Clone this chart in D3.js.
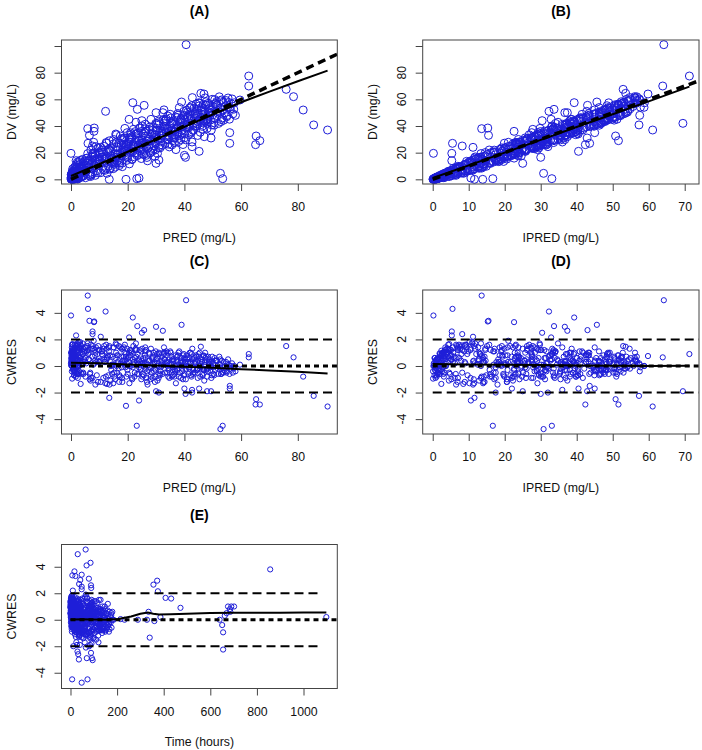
<!DOCTYPE html>
<html><head><meta charset="utf-8">
<script src="https://cdn.jsdelivr.net/npm/d3@7"></script>
<style>body{margin:0;background:#fff}svg{display:block}</style>
</head><body><svg id="c" width="702" height="750"></svg>
<script>
const PRED=[
0.2,0.5,0.8,1.1,0.3,1.5,2.0,0.6,1.8,2.4,
0.1,0.9,1.3,2.7,0.4,1.6,2.2,0.7,2.9,1.0,
0.3,1.9,2.6,0.5,1.4,2.1,0.8,1.7,2.3,0.2,
2.8,1.2,0.6,2.5,1.5,0.9,2.0,0.4,1.1,2.6,
0.7,1.8,2.9,0.3,1.3,2.2,0.5,1.6,2.4,1.0,
3.2,3.8,4.3,4.9,5.4,6.1,6.7,7.3,7.9,8.5,
9.1,9.7,3.5,4.0,4.6,5.1,5.7,6.4,7.0,7.6,
8.2,8.8,9.4,3.3,5.9,6.9,8.0,9.9,4.4,7.5,
9.5,5.0,6.3,8.6,3.7,10.2,10.8,11.4,12.0,12.6,
13.2,13.8,14.4,15.0,15.6,16.2,16.8,17.4,18.0,18.6,
19.2,19.8,10.5,11.1,11.7,12.3,12.9,13.5,14.1,14.7,
15.3,15.9,16.5,17.1,17.7,18.3,18.9,19.5,10.0,11.9,
13.0,14.9,16.0,17.0,18.5,19.6,12.5,15.4,17.9,19.0,
20.3,20.9,21.5,22.1,22.7,23.3,23.9,24.5,25.1,25.7,
26.3,26.9,27.5,28.1,28.7,29.3,29.9,20.6,21.2,21.8,
22.4,23.0,23.6,24.2,24.8,25.4,26.0,26.6,27.2,27.8,
28.4,29.0,29.6,20.1,22.9,24.0,26.5,28.9,20.7,23.5,
25.9,27.0,29.4,21.0,24.6,28.2,22.2,25.5,27.6,29.8,
30.2,30.8,31.4,32.0,32.6,33.2,33.8,34.4,35.0,35.6,
36.2,36.8,37.4,38.0,38.6,39.2,39.8,30.5,31.1,31.7,
32.3,32.9,33.5,34.1,34.7,35.3,35.9,36.5,37.1,37.7,
38.3,38.9,39.5,30.0,32.8,34.0,36.6,38.8,30.6,33.4,
35.8,37.0,39.4,31.0,34.6,38.2,32.2,35.5,37.6,39.9,
40.2,40.8,41.4,42.0,42.6,43.2,43.8,44.4,45.0,45.6,
46.2,46.8,47.4,48.0,48.6,49.2,49.8,40.5,41.1,41.7,
42.3,42.9,43.5,44.1,44.7,45.3,45.9,46.5,47.1,47.7,
48.3,48.9,49.5,40.0,42.8,44.0,46.6,48.8,40.9,43.4,
45.7,47.0,49.4,41.9,44.6,50.2,50.8,51.4,52.0,52.6,
53.2,53.8,54.4,55.0,55.6,56.2,56.8,57.4,50.5,51.1,
51.7,52.3,52.9,53.5,54.1,54.7,55.3,55.9,56.5,57.6,
0.4,1.2,2.0,2.8,3.6,4.4,0.9,1.7,2.5,3.3,
10.9,12.1,13.3,14.5,15.7,16.9,18.1,19.3,11.5,13.9,
16.3,18.7,20.4,21.6,22.8,24.0,25.2,26.4,27.6,28.8,
21.4,23.8,25.0,26.2,27.4,28.6,29.8,22.6,24.8,26.8,
30.4,31.6,32.8,34.0,35.2,36.4,37.6,38.8,30.9,33.1,
34.3,35.5,36.7,37.9,39.1,31.8,33.6,35.9,37.3,39.6,
40.7,41.9,43.1,44.3,45.5,46.7,47.9,49.1,41.3,43.7,
45.1,46.9,48.5,49.7,42.5,44.9,47.3,48.1,40.3,46.0,
50.0,51.3,52.5,53.7,54.9,56.0,57.1,50.7,53.0,55.4,
4.8,5.6,6.2,7.1,7.8,8.9,9.6,5.3,6.6,8.3,
12.4,14.0,15.2,16.6,17.8,19.9,13.6,15.8,18.2,19.4,
1.4,0.6,2.3,3.1,1.9,0.2,2.7,3.9,4.1,0.8,
0.5,1.0,1.6,2.2,3.0,0.3,1.3,2.6,3.5,4.2,
5.2,6.0,6.8,7.7,8.4,9.3,10.1,11.0,11.8,12.7,
13.4,14.2,15.1,16.4,17.3,18.2,19.1,20.0,20.8,21.9,
22.5,23.1,24.4,25.3,26.1,27.3,28.0,29.1,29.7,20.5,
30.3,31.2,32.1,33.0,33.9,34.8,35.7,36.9,37.8,38.7,
39.3,40.1,41.0,41.6,42.2,43.0,43.9,44.8,45.4,46.3,
47.2,47.8,48.4,49.0,49.6,50.3,51.0,51.8,52.7,53.4,
1.7,2.9,3.8,0.7,2.4,4.6,1.1,3.2,0.5,2.0,
26.7,29.5,31.9,34.6,36.1,37.5,39.9,42.4,44.5,46.1,
14.8,16.1,17.5,18.8,19.7,21.1,22.0,23.7,24.9,25.6,
2.1,1.5,1.2,0.9,3.4,0.8,0.6,0.5,0.4,0.3,
0.2,0.3,0.4,0.1,0.2,0.1,0.2,0.1,0.3,0.1,
0.0,0.2,
40.6,62.7,62.7,75.9,78.5,81.9,85.6,90.5,65.3,66.6,
65.1,56,52.7,53.5,49.4,45.2,40.4,12.2,21.8,25.8,
23.4,19.4,23.2,13.5,24,0,5.9,8.2,6,6.5,
7.6,7.6,1.8,32.4,39,8.1,30,25,20.5,10.5,
42.7,42.7,40,31,56,8.6,12.7,48,46.9,45.8,
59.6,58,22,30];
const IPRED=[
1.6,2.5,0.9,3.4,0.5,2.6,4.7,6.5,1.5,3.3,
0.4,3.5,1.0,5.2,1.2,4.4,2.9,0.6,7.0,1.9,
3.5,2.4,4.8,0.7,3.0,8.9,1.5,3.1,1.3,0.9,
6.9,4.8,1.2,5.1,1.6,2.6,7.6,1.9,0.5,3.0,
4.1,6.0,3.7,2.4,1.6,11.0,0.9,8.1,0.8,4.9,
7.4,7.0,4.6,9.4,9.1,13.2,6.4,11.8,12.5,13.7,
9.7,14.6,3.3,8.0,8.8,3.1,11.6,13.8,15.7,7.0,
11.6,20.8,11.4,7.9,13.4,4.5,21.0,18.5,10.5,14.4,
6.9,11.2,13.0,23.6,5.7,14.7,17.1,10.5,17.7,19.9,
14.9,19.3,19.1,23.8,11.4,23.7,22.6,28.3,13.4,23.2,
17.5,27.5,8.9,18.6,21.5,13.6,20.8,26.2,19.1,21.9,
14.2,22.8,20.2,19.7,23.8,23.7,25.7,16.4,19.2,18.3,
19.4,11.5,26.8,14.4,23.7,27.5,12.8,17.9,24.6,29.8,
27.5,27.5,17.5,23.7,29.9,23.8,26.1,22.6,33.2,21.6,
29.4,28.3,33.4,22.2,32.7,28.9,34.1,14.0,34.1,25.7,
19.9,27.6,31.5,33.6,17.1,26.6,32.6,22.0,30.8,33.0,
25.1,36.7,20.6,23.9,34.8,29.0,29.2,32.2,23.2,33.2,
23.9,18.0,31.8,29.3,26.1,38.6,26.6,31.4,31.8,24.8,
35.5,36.4,29.5,35.6,38.4,29.9,36.7,31.2,41.5,30.0,
38.8,35.4,41.1,30.5,43.3,40.4,42.8,22.3,39.2,31.5,
30.2,38.4,37.3,43.2,27.9,36.2,41.0,33.6,37.0,43.4,
35.4,37.0,31.2,33.1,45.0,39.2,37.2,40.7,31.1,42.6,
36.3,29.1,37.7,38.0,35.7,46.2,36.2,46.1,33.6,36.4,
48.1,47.4,39.7,46.4,48.4,38.9,49.3,44.8,48.9,38.1,
49.1,46.7,50.5,39.8,52.3,47.9,53.8,35.5,46.7,39.5,
40.2,49.2,48.4,51.6,36.9,44.6,50.7,40.4,50.3,52.4,
45.1,46.3,41.7,48.5,54.7,50.2,50.4,51.7,43.7,52.3,
46.2,37.4,46.7,48.7,47.4,55.6,48.2,54.1,46.8,51.1,
56.2,47.4,53.2,52.2,53.1,54.8,57.4,53.4,46.3,56.5,
54.2,56.7,47.8,50.7,51.7,56.8,57.7,51.2,55.8,58.8,
3.0,1.4,3.9,2.6,6.7,4.8,3.2,1.1,8.2,9.0,
13.1,10.2,18.6,16.0,22.8,23.0,14.1,27.5,17.2,12.9,
17.5,27.2,24.0,20.6,29.0,27.9,22.5,31.0,34.8,25.9,
28.4,23.0,32.7,36.0,28.9,31.1,31.4,24.5,31.6,20.6,
33.9,31.6,37.0,37.2,41.8,35.3,42.6,40.1,27.4,34.6,
30.7,38.0,39.6,43.5,40.3,30.1,40.8,33.7,36.8,43.2,
42.1,45.4,45.7,48.3,47.6,51.4,50.5,48.0,42.6,43.9,
50.4,48.1,53.6,44.9,39.8,46.2,56.2,49.9,39.4,47.8,
52.0,51.6,54.1,53.2,50.8,58.7,53.0,55.0,48.9,56.3,
8.9,9.9,12.8,6.1,14.6,14.0,19.2,12.6,5.2,16.1,
23.1,20.9,16.9,20.2,26.3,20.8,11.2,29.7,25.6,23.2,
5.6,2.4,3.5,7.6,1.8,2.9,10.2,6.2,11.8,4.3,
2.7,1.7,3.4,5.1,5.6,0.6,7.3,2.0,4.3,9.6,
6.4,10.5,8.2,15.1,12.9,12.1,14.3,16.8,18.2,14.0,
19.0,15.8,22.3,21.7,15.9,25.0,25.4,19.6,26.2,28.6,
23.8,30.1,23.4,26.0,33.5,27.6,24.1,34.0,32.1,27.3,
37.4,29.4,38.9,39.4,33.4,43.8,36.7,42.6,34.5,33.9,
39.0,38.3,42.7,44.7,49.2,41.0,45.1,46.9,52.8,43.5,
46.3,48.6,52.6,51.9,49.0,46.4,52.4,53.5,54.5,50.2,
3.9,6.9,3.0,2.0,9.3,5.2,1.0,11.0,4.4,2.6,
25.6,36.9,28.7,39.8,38.4,38.1,37.2,41.0,45.3,45.0,
18.9,13.4,22.6,16.9,19.8,24.7,20.2,28.0,23.5,28.9,
1.8,1.1,0.9,3.2,2.4,0.8,1.1,4.6,4.3,2.7,
0.2,0.1,0.1,1.0,1.6,2.9,2.3,3.1,3.0,1.4,
0.3,0.4,
64.2,71.3,63.9,52.9,56.1,51,57.3,61.1,50.8,51.6,
42.4,43.6,30.8,33.1,42.9,40.5,30,32.3,39.3,43,
33.7,13.9,16.7,11.6,10.6,0.2,13.6,15.3,5.5,15.5,
5.3,8.2,5.3,37.4,45.6,22.6,36.7,30.4,32.9,11.2,
32,36,22,17.5,45,6.5,8.5,69.5,59.8,53.6,
57.5,57.5,27.8,25];
const DV=[
1.2,3.1,0.3,4.2,0.8,1.9,5.5,7.8,0.9,2.6,
0.1,2.7,0.4,6.3,1.6,3.6,2.0,0.2,8.1,1.3,
4.6,1.7,3.9,1.0,2.3,10.4,2.1,3.8,0.6,0.5,
5.8,6.0,1.8,4.3,0.9,3.4,9.0,2.5,0.1,2.2,
5.2,5.0,2.9,3.2,1.1,12.8,1.4,9.6,0.2,4.0,
5.9,9.8,2.4,13.5,6.1,12.0,3.8,16.8,8.7,15.2,
6.4,20.1,1.5,7.4,11.0,1.2,16.0,9.3,22.0,4.2,
10.5,24.5,12.2,4.8,19.3,2.1,27.8,13.6,12.6,14.0,
4.9,7.0,14.4,18.0,8.3,13.8,21.9,7.1,15.6,27.1,
9.8,21.2,15.5,29.9,9.2,24.3,15.9,32.5,12.1,26.2,
18.4,35.0,5.0,16.9,24.8,8.4,20.3,28.9,14.7,23.1,
11.3,27.4,19.2,13.4,25.8,20.5,31.1,14.1,19.6,13.3,
21.0,8.0,33.4,10.3,23.9,25.0,15.9,16.5,17.6,38.2,
23.2,29.7,14.8,24.2,35.8,17.7,29.5,21.6,40.1,18.5,
32.3,23.0,37.4,20.2,33.8,25.2,41.9,11.6,33.5,20.9,
16.9,31.2,25.7,38.6,15.6,27.4,35.1,18.0,28.6,39.2,
23.3,29.8,17.2,26.8,42.8,28.7,24.6,36.9,20.7,34.6,
27.7,13.9,30.6,34.9,22.8,45.0,25.8,33.7,26.3,22.1,
33.1,40.5,23.6,36.3,44.9,26.9,38.5,30.1,48.8,25.8,
41.4,31.6,46.3,28.4,42.9,34.0,51.0,19.4,42.5,30.6,
25.5,39.7,35.4,47.6,24.3,36.0,43.8,27.6,37.9,49.4,
32.8,39.0,26.1,37.0,52.1,37.8,33.3,45.6,30.3,44.2,
36.6,22.3,40.1,43.7,32.5,53.8,34.5,41.8,35.5,31.0,
44.8,51.9,33.5,47.4,55.2,36.7,48.7,39.8,57.4,35.3,
51.2,42.1,55.8,38.2,53.0,44.4,60.0,29.6,50.3,39.2,
34.6,50.7,46.1,56.5,32.9,45.0,53.7,37.6,49.2,58.2,
43.2,49.0,37.0,48.0,61.3,47.1,44.4,55.6,41.3,53.4,
46.8,32.0,49.9,53.8,43.6,54.6,45.6,58.4,41.9,53.5,
59.6,44.3,54.9,47.8,57.7,52.8,60.3,52.6,40.6,57.0,
51.5,61.9,43.3,52.0,49.8,59.1,54.1,45.1,56.7,57.4,
2.2,0.6,5.1,1.5,8.8,3.0,4.4,0.3,6.9,11.2,
16.5,6.8,22.4,11.9,19.1,27.3,9.5,24.0,20.6,8.3,
13.7,30.8,27.9,15.2,33.6,23.4,19.1,36.2,30.1,21.4,
31.9,18.6,29.3,41.3,24.1,34.7,27.0,27.8,35.9,16.4,
36.7,28.2,41.8,33.5,46.1,30.9,39.3,44.7,23.8,38.0,
26.4,42.4,35.6,48.2,36.9,33.0,45.3,29.0,40.6,47.7,
38.5,48.9,41.2,52.7,44.0,56.3,46.4,51.8,45.7,39.9,
55.0,43.9,50.1,40.8,35.7,49.6,61.1,45.2,42.8,52.2,
48.3,55.7,50.4,57.9,46.9,54.0,49.1,59.8,44.8,61.0,
6.7,12.4,9.6,3.4,17.5,11.3,23.6,15.7,2.6,19.9,
27.6,17.8,13.0,23.9,30.4,17.3,7.6,34.0,22.0,26.8,
7.2,1.7,2.8,9.5,0.9,3.6,13.3,4.7,15.0,5.9,
3.8,0.9,2.4,6.6,4.1,1.0,9.2,1.2,5.4,7.9,
8.4,13.7,5.3,18.6,10.2,15.5,11.6,20.4,14.6,17.1,
22.6,12.7,26.6,18.1,12.3,29.2,21.8,16.2,30.5,24.7,
19.7,34.4,27.1,22.2,37.8,31.5,19.9,38.8,28.3,31.0,
41.7,25.6,35.0,43.6,29.7,40.0,32.9,46.8,38.3,29.8,
43.4,34.0,47.0,40.4,53.6,36.9,49.3,43.1,57.2,39.7,
50.6,44.7,57.0,47.9,53.1,42.6,56.6,49.6,58.9,46.1,
4.9,8.3,2.1,2.9,11.6,6.4,0.4,14.2,6.0,3.3,
28.9,33.2,32.4,36.1,42.6,34.5,41.1,44.9,41.8,48.8,
15.8,16.7,19.5,20.0,22.9,21.6,23.4,25.1,26.6,25.9,
1.8,1.1,0.9,3.5,1.6,0.7,1.2,5.0,4.8,3.0,
0.2,0.1,0.0,1.2,1.9,3.3,2.6,3.4,3.3,1.5,
0.5,0.2,
101,77.5,70,67.5,62,52,40.8,37,32.5,29,
26,27,4.5,0.5,31,21,16.5,51,57.5,55.5,
52.5,0,0.5,0,1,19.5,38,38.5,27,33,
19.5,25,14,50,58,36,50,44,45,24,
24.5,28,18,14.5,35,3,4.5,42,64,64.5,
59.5,48,37.5,12];
const CWRES=[
0.4,0.9,-0.2,1.2,0.6,0.1,1.1,1.6,-0.5,0.2,
0.05,0.7,-0.4,0.8,0.5,0.6,-0.1,-0.3,1.3,0.3,
1.4,-0.2,0.4,0.35,0.45,1.5,0.55,0.75,-0.6,0.2,
0.65,1.25,0.5,0.5,-0.35,0.85,1.45,0.95,-0.7,-0.05,
1.05,0.7,0.0,1.15,0.15,1.7,0.45,1.55,-0.9,0.8,
0.6,1.2,-0.5,1.4,0.2,0.9,-0.6,1.3,0.1,0.8,
-0.7,1.2,-0.5,0.9,1.1,-0.8,1.5,0.5,1.6,-0.9,
0.2,1.4,0.4,0.4,1.7,-1.1,1.9,0.3,1.3,0.7,
-1.2,0.35,1.0,1.0,1.0,0.4,1.1,-0.9,0.3,1.3,
-0.7,0.8,0.1,1.4,-1.0,0.8,-0.2,1.4,-0.9,0.7,
-0.1,1.3,-1.2,0.8,1.5,-0.8,0.8,1.5,0.0,0.7,
-0.8,1.0,0.2,-0.7,0.7,0.2,1.0,-0.8,1.2,0.3,
0.7,-1.3,1.6,-1.2,0.4,0.5,0.5,0.1,-0.1,1.6,
0.3,0.8,-0.9,0.3,1.2,-0.6,0.5,-0.3,1.3,-0.7,
0.6,-0.4,1.0,-0.8,0.5,-0.4,1.1,-1.3,1.1,-0.1,
-0.8,0.7,0.2,1.2,-1.0,0.2,0.8,-0.9,0.1,0.9,
-0.5,0.1,-1.2,0.6,1.7,0.4,-0.2,0.7,0.0,0.9,
0.2,-1.4,0.2,1.2,-0.2,1.3,0.3,0.6,-0.1,-0.8,
0.2,0.7,-0.7,0.3,1.0,-0.5,0.3,-0.3,1.1,-0.8,
0.4,-0.4,0.7,-0.8,0.3,-0.4,0.9,-1.1,0.9,-0.1,
-0.6,0.5,0.1,1.0,-0.9,0.1,0.5,-0.8,0.0,0.8,
-0.5,0.1,-1.0,0.5,1.4,0.3,-0.3,0.4,0.0,0.8,
-0.1,-1.3,0.0,1.0,-0.2,1.1,0.2,0.4,-0.2,-0.7,
0.3,0.8,-0.6,0.3,0.9,-0.5,0.3,-0.3,0.9,-0.8,
0.3,-0.3,0.6,-0.8,0.3,-0.3,0.7,-1.0,0.6,-0.2,
-0.7,0.5,0.2,0.8,-0.9,0.0,0.5,-0.7,0.1,0.7,
-0.4,0.1,-0.9,0.6,1.3,0.2,-0.2,0.5,0.0,0.6,
0.0,-1.1,0.0,1.0,-0.2,0.2,-0.3,0.4,-0.6,0.1,
0.4,-0.5,0.0,-0.4,0.1,-0.2,0.2,-0.2,-0.7,0.4,
0.0,0.7,-0.6,-0.1,-0.3,0.3,-0.1,-0.6,0.0,0.0,
0.9,-0.5,1.3,-0.4,1.5,-0.6,1.1,-0.8,1.2,1.6,
0.9,-1.3,1.4,-0.6,0.6,1.5,-1.2,0.9,1.3,-1.1,
-0.5,1.4,0.7,-1.0,1.3,-0.1,-0.8,1.2,0.4,-0.9,
1.0,-0.6,0.4,1.4,-0.3,0.6,-0.3,0.6,1.1,-1.2,
0.6,-0.4,0.9,0.0,1.0,-0.6,0.3,0.6,-0.9,0.5,
-0.8,0.7,0.0,1.0,-0.2,0.1,1.1,-0.7,0.4,0.8,
-0.2,0.6,-0.3,0.7,-0.2,0.8,-0.2,0.3,0.3,-0.5,
0.7,-0.3,0.2,-0.7,-0.8,0.4,1.0,-0.2,0.2,0.5,
-0.1,0.4,-0.1,0.3,-0.5,0.0,-0.5,0.6,-0.6,0.5,
0.3,1.1,0.5,-0.9,1.3,0.3,1.5,1.4,-1.0,1.2,
1.6,0.3,-0.5,0.8,1.3,-0.3,-1.4,1.7,0.4,0.7,
1.4,0.6,0.0,1.3,-0.6,1.0,1.8,0.2,1.7,1.2,
1.0,-0.3,0.5,1.2,0.3,0.6,1.6,-0.6,0.7,0.9,
0.6,1.2,-0.5,1.5,0.4,0.9,0.3,1.1,0.5,0.6,
1.1,-0.3,1.4,0.3,-0.8,1.3,0.4,-0.6,1.2,0.5,
-0.5,1.2,0.3,-0.6,1.1,0.4,-1.0,1.0,-0.2,1.0,
0.9,-0.6,0.4,1.0,-0.5,0.5,-0.3,0.8,0.1,-0.9,
0.3,-0.6,0.5,-0.1,1.0,-0.6,0.4,-0.2,1.0,-0.6,
0.3,-0.3,0.7,-0.1,0.3,-0.6,0.4,-0.2,0.5,-0.5,
0.9,1.4,-0.6,0.9,1.6,0.5,-0.7,1.8,1.3,0.4,
0.2,0.3,0.0,0.1,0.5,-0.3,0.1,0.2,-0.3,0.3,
0.1,0.0,0.2,0.1,0.2,0.0,0.1,0.1,0.2,0.0,
0.0,0.0,0.0,0.6,-1.35,-0.1,0.2,1.65,1.6,0.9,
0.0,-0.4,-0.95,0.3,0.5,1.0,0.8,1.0,1.0,0.6,
0.2,0.05,
4.95,0.9,0.65,1.5,0.65,-0.8,-2.25,-3.05,-2.5,-2.9,
-2.9,-1.5,-4.75,-4.5,-1.9,-1.7,-2.1,4.1,3.65,2.7,
3.0,-3,-4.5,-2.4,-2.6,3.8,5.3,3.35,4.3,3.4,
2.6,2.4,2.3,2.65,3.1,3.3,2.95,2.5,2.15,2.2,
-2.0,-1.8,-1.7,-2.0,-1.7,-1.4,-1.35,-1.9,0.75,1.45,
0.1,-0.4,1.5,-1.9];
const TIME=[
0.5,1,2,1.5,120,3,4,2.5,6,8,
150,1.2,5,7,0.8,2.2,9,165,3.5,140,
0.3,11,12,175,4.5,2,6.5,10,13,110,
5.5,1.8,0.6,14,16,3.2,4.2,0.4,130,18,
1.1,7.5,20,0.7,145,2.8,155,3.8,22,1.6,
9,5,24,6,26,7,28,8.5,30,10.5,
32,12,34,38,40,43,44,47,50,51,
55,56,59,60,62,65,66,69,71,72,
75,76,79,81,83,84,86,89,91,92,
95,96,99,101,103,104,107,108,111,112,
115,116,119,121,122,125,126,129,131,132,
135,137,138,141,142,145,147,148,5.5,11.5,
17.5,23,29.5,35,41.5,47,53.5,59,65.5,71,
2,4.5,6,8.5,10,12.5,14,16.5,18,21,
22,24.5,26,29,30,32.5,34,37,38,40.5,
42,44.5,46,49,50,52.5,54,57,58,60.5,
62,64.5,66,69,70,72.5,74,77,78,80.5,
82,84.5,86,89,90,92.5,94,97,98,100.5,
1,3.5,5,7.5,9,11.5,13,15.5,17,19.5,
21,23.5,25,27.5,29,31.5,33,35.5,37,39.5,
41,43.5,45,47.5,49,51.5,53,55.5,57,59.5,
61,63.5,65,67.5,69,71.5,73,75.5,77,79.5,
81,83.5,85,87.5,89,91.5,93,95.5,97,99.5,
101,103.5,105,107.5,109,111.5,113,115.5,117,119.5,
121,123.5,125,127.5,129,131.5,133,135.5,137,139.5,
141,143.5,145,147.5,149,151.5,153,155.5,157,159.5,
161,163.5,165,167.5,14,171.5,173,175.5,177,179.5,
181,19,185,12.5,27,3,9,15,21,27,
33,39,45,51,57,63,69,75,81,87,
93,99,105,111,117,123,129,135,141,147,
0.2,3.4,1.4,7.8,2.6,12.4,0.9,15.2,5.8,4.1,
27.5,48.5,9.7,63.2,19.9,33.8,88.4,6.2,42.7,71.9,
57.3,24.6,3.9,79.6,15.7,36.9,94.2,8.8,52.4,67.1,
21.6,46.1,11.3,84.7,31.2,5.3,61.8,98.7,17.1,40.3,
4.6,29.4,13.8,55.1,7.4,73.3,22.9,91.6,38.5,66.8,
18.3,49.7,2.7,77.9,26.8,10.2,60.4,35.7,83.1,14.6,
108.4,24.1,126.5,44.6,136.2,8.1,152.8,69.7,118.3,32.9,
15.9,142.7,53.6,167.4,88.2,112.6,37.4,158.1,63.9,97.3,
6.8,71.2,122.9,29.7,138.4,46.6,161.2,19.3,103.1,84.5,
13.1,37.6,69.5,22.4,4.8,51.3,90.8,28.2,77.7,9.4,
3.1,65.8,31.9,85.6,11.9,47.2,97.6,18.6,58.9,26.3,
4.4,1.3,11.8,2.1,125.5,0.7,6.1,17.9,8.3,160.3,
1.7,4.9,0.3,9.9,19.1,2.9,6.4,13.6,23.8,31.1,
44.2,8.6,57.8,15.3,70.6,27.2,84.3,38.4,99.1,2.3,
12.9,61.4,5.7,89.9,33.5,21.2,75.6,45.8,1.9,108.6,
16.8,54.9,119.4,28.7,7.9,67.2,39.6,92.8,3.4,25.1,
10.7,36.2,114.6,5.1,47.9,82.4,23.7,129.3,60.1,18.9,
72.3,144.2,26.4,98.4,14.1,156.6,41.3,118.9,6.9,133.7,
87.1,164.9,21.8,109.7,57.4,176.2,31.6,141.8,11.3,124.6,
3.7,0.6,16.4,8.8,2.4,26.9,116.3,5.2,1.0,11.4,
35.1,18.2,64.3,9.1,45.6,81.2,27.7,102.9,53.2,147.6,
7.1,30.4,51.6,74.8,96.3,12.2,41.7,63.7,87.7,20.8,
232,289,328,335,340,360,386,408,432,472,
640,651,655,662,670,676,684,690,702,686,
1098,215,
31,24,30,14,45,58,655,95,88,92,
70,110,48,73,84,61,66,69,17,37,
42,36,7,30,33,857,65,8,86,48,
88,89,48,356,79,21,372,48,375,10,
12,90,25,80,120,55,100,40,18,22,
60,130,35,28];

// ---- smooth (loess) curves ----
const loessA_x=[0,10,20,30,40,50,60,70,80,90.5];
const loessA_y=[2.5,11.5,20.7,30,39.3,48.6,57.8,65.8,73.6,81.5];
const loessB_x=[0,10,20,30,40,50,60,71.3];
const loessB_y=[1,10.5,20,29.6,39.2,48.8,58.5,69.5];
const loessC_x=[0,10,20,30,40,50,60,70,80,90.5];
const loessC_y=[0.25,0.2,0.12,0.03,-0.06,-0.14,-0.24,-0.34,-0.44,-0.57];
const loessD_x=[0,10,20,30,40,50,60,71.3];
const loessD_y=[0.15,0.12,0.09,0.07,0.04,0.01,0,0.02];
const loessE_x=[0,50,100,150,205,260,300,332,355,380,430,500,600,700,800,900,1000,1098];
const loessE_y=[0.02,0.03,0.02,0.0,0.05,0.25,0.45,0.55,0.45,0.4,0.42,0.45,0.5,0.52,0.52,0.53,0.55,0.55];

// ---- reference lines ----
const identitySpan=[0,110];
const resLevels=[-2,0,2];
const resSpanPred=[0,100];
const resSpanIpred=[0,80];
const resSpanTimeOuter=[0,1080];
const resSpanTimeZero=[0,1200];

// ---- ticks ----
const dvTicks=[0,20,40,60,80,100];
const dvTickLabels=["0","20","40","60","80",""];
const predTicks=[0,20,40,60,80];
const ipredTicks=[0,10,20,30,40,50,60,70];
const cwresTicks=[-4,-2,0,2,4];
const timeTicks=[0,200,400,600,800,1000];

const FONT='"Liberation Sans", Arial, Helvetica, sans-serif';
const PT='#1e1ed8';
const AX='#444';
const svg=d3.select('#c');

const panels=[
 {t:'(A)',box:[61.5,40,337.3,184],xd:[-3.35,93.93],yd:[-3.5,104.5],xs:PRED,ys:DV,r:4,
  xt:predTicks,yt:dvTicks,ytl:dvTickLabels,xl:'PRED (mg/L)',yl:'DV (mg/L)',lx:loessA_x,ly:loessA_y,kind:'gof'},
 {t:'(B)',box:[422.7,40,699,184],xd:[-2.78,73.97],yd:[-3.5,104.5],xs:IPRED,ys:DV,r:4,
  xt:ipredTicks,yt:dvTicks,ytl:dvTickLabels,xl:'IPRED (mg/L)',yl:'DV (mg/L)',lx:loessB_x,ly:loessB_y,kind:'gof'},
 {t:'(C)',box:[61.5,290,337.3,434],xd:[-3.35,93.93],yd:[-5.12,5.72],xs:PRED,ys:CWRES,r:2.6,
  xt:predTicks,yt:cwresTicks,xl:'PRED (mg/L)',yl:'CWRES',lx:loessC_x,ly:loessC_y,kind:'res',span:resSpanPred,span0:resSpanPred},
 {t:'(D)',box:[422.7,290,699,434],xd:[-2.78,73.97],yd:[-5.12,5.72],xs:IPRED,ys:CWRES,r:2.6,
  xt:ipredTicks,yt:cwresTicks,xl:'IPRED (mg/L)',yl:'CWRES',lx:loessD_x,ly:loessD_y,kind:'res',span:resSpanIpred,span0:resSpanIpred},
 {t:'(E)',box:[61.5,544.5,337.3,688.5],xd:[-38.6,1145],yd:[-5.19,5.68],xs:TIME,ys:CWRES,r:2.6,
  xt:timeTicks,yt:cwresTicks,xl:'Time (hours)',yl:'CWRES',lx:loessE_x,ly:loessE_y,kind:'res',span:resSpanTimeOuter,span0:resSpanTimeZero}
];

const n=Math.min(PRED.length,IPRED.length,DV.length,CWRES.length,TIME.length);
const idx=d3.range(n);

panels.forEach((p,pi)=>{
  const [x0,y0,x1,y1]=p.box;
  const x=d3.scaleLinear().domain(p.xd).range([x0,x1]);
  const y=d3.scaleLinear().domain(p.yd).range([y1,y0]);
  const cid='clip'+pi;
  svg.append('clipPath').attr('id',cid).append('rect')
    .attr('x',x0).attr('y',y0).attr('width',x1-x0).attr('height',y1-y0);
  const g=svg.append('g');
  g.append('g').attr('clip-path',`url(#${cid})`).selectAll('circle').data(idx).join('circle')
    .attr('cx',i=>x(p.xs[i])).attr('cy',i=>y(p.ys[i])).attr('r',p.r)
    .attr('fill','none').attr('stroke',PT).attr('stroke-width',1);
  const lg=g.append('g').attr('clip-path',`url(#${cid})`);
  const line=d3.line().x(d=>x(d[0])).y(d=>y(d[1]));
  if(p.kind==='gof'){
    lg.append('path').attr('d',line(identitySpan.map(v=>[v,v])))
      .attr('fill','none').attr('stroke','#000').attr('stroke-width',3.5).attr('stroke-dasharray','8,5');
  } else {
    resLevels.forEach(lv=>{
      if(lv===0){
        lg.append('path').attr('d',line(p.span0.map(v=>[v,lv])))
          .attr('fill','none').attr('stroke','#000').attr('stroke-width',3.2).attr('stroke-dasharray','5,4');
      } else {
        lg.append('path').attr('d',line(p.span.map(v=>[v,lv])))
          .attr('fill','none').attr('stroke','#000').attr('stroke-width',2).attr('stroke-dasharray','9,5');
      }
    });
  }
  lg.append('path').attr('d',line(p.lx.map((v,k)=>[v,p.ly[k]])))
    .attr('fill','none').attr('stroke','#000').attr('stroke-width',2);
  g.append('rect').attr('x',x0).attr('y',y0).attr('width',x1-x0).attr('height',y1-y0)
    .attr('fill','none').attr('stroke',AX).attr('stroke-width',1);
  const xa=g.append('g').attr('transform',`translate(0,${y1})`)
    .call(d3.axisBottom(x).tickValues(p.xt).tickSize(7).tickPadding(11.3).tickFormat(d3.format('d')));
  xa.select('.domain').remove();
  xa.selectAll('line').attr('stroke',AX);
  xa.selectAll('text').attr('font-family',FONT).attr('font-size',12.3).attr('fill','#111');
  const ya=g.append('g').attr('transform',`translate(${x0},0)`)
    .call(d3.axisLeft(y).tickValues(p.yt).tickSize(7).tickFormat(()=>''));
  ya.select('.domain').remove();
  ya.selectAll('line').attr('stroke',AX);
  g.selectAll('text.ylab').data(p.yt).join('text').attr('class','ylab')
    .attr('transform',d=>`translate(${x0-16.7},${y(d)}) rotate(-90)`)
    .attr('text-anchor','middle').attr('font-family',FONT).attr('font-size',12.3).attr('fill','#111')
    .text((d,k)=>p.ytl?p.ytl[k]:String(d));
  g.append('text').attr('x',(x0+x1)/2).attr('y',y0-24.5).attr('text-anchor','middle')
    .attr('font-family',FONT).attr('font-size',14).attr('font-weight','bold').text(p.t);
  g.append('text').attr('x',(x0+x1)/2).attr('y',y1+57.5).attr('text-anchor','middle')
    .attr('font-family',FONT).attr('font-size',12.3).attr('fill','#111').text(p.xl);
  g.append('text').attr('transform',`translate(${x0-46},${(y0+y1)/2}) rotate(-90)`).attr('text-anchor','middle')
    .attr('font-family',FONT).attr('font-size',12.3).attr('fill','#111').text(p.yl);
});
</script></body></html>
